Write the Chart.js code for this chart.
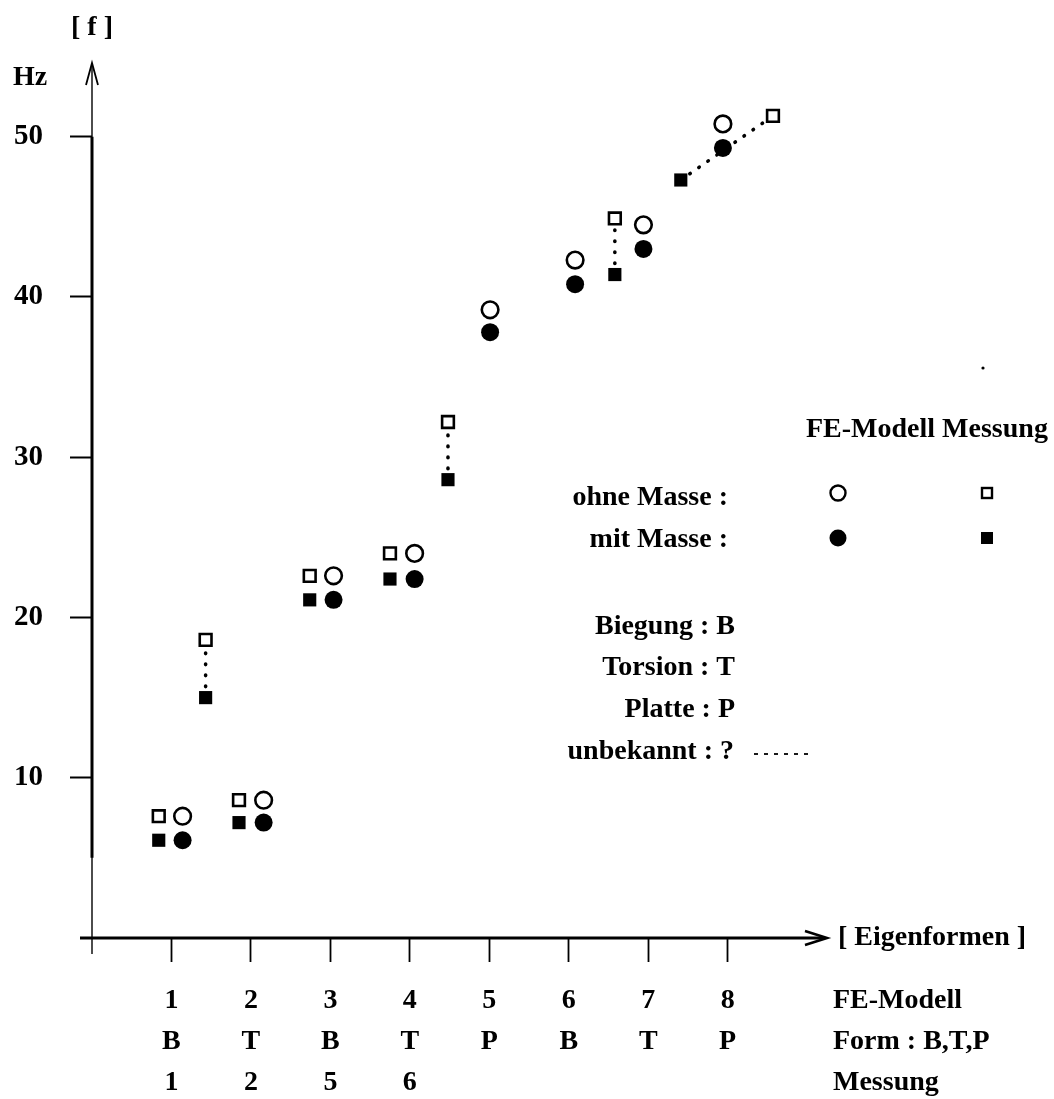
<!DOCTYPE html>
<html>
<head>
<meta charset="utf-8">
<script src="https://cdn.jsdelivr.net/npm/chart.js@4.4.1/dist/chart.umd.min.js"></script>
<style>
  html, body { margin: 0; padding: 0; background: #fff; }
  #wrap { position: relative; width: 1054px; height: 1099px; }
</style>
</head>
<body>
<div id="wrap"><canvas id="chart"></canvas></div>
<script>
/* Eigenfrequenzen: FE-Modell vs. Messung, ohne / mit Masse */

// FE-Modell (circles)
const feX     = [1.14, 2.16, 3.04, 4.06, 5.01, 6.08, 6.94, 7.94];
const feOhne  = [7.6, 8.6, 22.6, 24.0, 39.2, 42.3, 44.5, 50.8];
const feMit   = [6.1, 7.2, 21.1, 22.4, 37.8, 40.8, 43.0, 49.3];

// Messung (squares), assigned to a form
const messX    = [0.84, 1.85, 2.74, 3.75];
const messOhne = [7.6, 8.6, 22.6, 24.0];
const messMit  = [6.1, 7.2, 21.1, 22.4];

// Messung, form unbekannt (pairs joined by a dotted line)
const unbOhneX = [1.43, 4.48, 6.58, 8.57];
const unbOhne  = [18.6, 32.2, 44.9, 51.3];
const unbMitX  = [1.43, 4.48, 6.58, 7.41];
const unbMit   = [15.0, 28.6, 41.4, 47.3];

// axis labels
const formNr  = ['1', '2', '3', '4', '5', '6', '7', '8'];
const formTyp = ['B', 'T', 'B', 'T', 'P', 'B', 'T', 'P'];
const messNr  = ['1', '2', '5', '6', '', '', '', ''];
const yTicks  = [10, 20, 30, 40, 50];

const FONT = '"Liberation Serif", "Times New Roman", serif';

const pts = (xs, ys) => xs.map((x, i) => ({ x: x, y: ys[i] }));

const datasets = [
  { label: 'FE ohne Masse', data: pts(feX, feOhne), pointStyle: 'circle', pointRadius: 8.3,
    borderWidth: 2.6, borderColor: '#000', backgroundColor: '#fff' },
  { label: 'FE mit Masse', data: pts(feX, feMit), pointStyle: 'circle', pointRadius: 9,
    borderWidth: 0, borderColor: '#000', backgroundColor: '#000' },
  { label: 'Messung ohne Masse', data: pts(messX.concat(unbOhneX), messOhne.concat(unbOhne)),
    pointStyle: 'rect', pointRadius: 8.3, borderWidth: 2.6, borderColor: '#000', backgroundColor: '#fff' },
  { label: 'Messung mit Masse', data: pts(messX.concat(unbMitX), messMit.concat(unbMit)),
    pointStyle: 'rect', pointRadius: 9.3, borderWidth: 0, borderColor: '#000', backgroundColor: '#000' }
];

// dotted connectors for unknown forms
unbOhneX.forEach((x, i) => {
  datasets.push({
    label: 'unbekannt ' + (i + 1),
    data: [{ x: unbMitX[i], y: unbMit[i] }, { x: x, y: unbOhne[i] }],
    showLine: true, pointRadius: 0, borderColor: '#000', borderWidth: 3.6,
    borderDash: [0.5, 10.5], borderCapStyle: 'round', order: 10
  });
});

function txt(ctx, s, x, y, align) {
  ctx.textAlign = align || 'left';
  ctx.textBaseline = 'middle';
  ctx.fillText(s, x, y);
}

const decor = {
  id: 'decor',
  afterDraw(chart) {
    const ctx = chart.ctx;
    const xs = chart.scales.x, ys = chart.scales.y;
    const x0 = xs.getPixelForValue(0), y0 = ys.getPixelForValue(0);
    const top = chart.chartArea.top, right = chart.chartArea.right;
    ctx.save();
    ctx.strokeStyle = '#000';
    ctx.fillStyle = '#000';
    ctx.lineCap = 'butt';

    // y axis (thin) + thicker middle part like the original
    ctx.lineWidth = 1.4;
    ctx.beginPath(); ctx.moveTo(x0, top); ctx.lineTo(x0, y0 + 16); ctx.stroke();
    ctx.lineWidth = 3;
    ctx.beginPath(); ctx.moveTo(x0, ys.getPixelForValue(50)); ctx.lineTo(x0, ys.getPixelForValue(5)); ctx.stroke();
    ctx.lineWidth = 1.8;
    ctx.beginPath(); ctx.moveTo(x0 - 6, top + 22); ctx.lineTo(x0, top); ctx.lineTo(x0 + 6, top + 22); ctx.stroke();

    // x axis with arrow
    ctx.lineWidth = 3;
    ctx.beginPath(); ctx.moveTo(x0 - 12, y0); ctx.lineTo(right - 2, y0); ctx.stroke();
    ctx.lineWidth = 2.6;
    ctx.beginPath(); ctx.moveTo(right - 22, y0 - 7); ctx.lineTo(right, y0); ctx.lineTo(right - 22, y0 + 7); ctx.stroke();

    ctx.font = 'bold 28px ' + FONT;
    txt(ctx, '[ f ]', 92, 28, 'center');
    txt(ctx, 'Hz', 13, 78);
    txt(ctx, '[ Eigenformen ]', 838, y0);
    txt(ctx, 'FE-Modell', 833, 1001);
    txt(ctx, 'Form : B,T,P', 833, 1042);
    txt(ctx, 'Messung', 833, 1083);

    // legend
    txt(ctx, 'FE-Modell Messung', 806, 430);
    txt(ctx, 'ohne Masse :', 728, 498, 'right');
    txt(ctx, 'mit Masse :', 728, 540, 'right');
    txt(ctx, 'Biegung : B', 735, 627, 'right');
    txt(ctx, 'Torsion : T', 735, 668, 'right');
    txt(ctx, 'Platte : P', 735, 710, 'right');
    txt(ctx, 'unbekannt : ?', 734, 752, 'right');

    ctx.lineWidth = 1.8;
    for (let i = 0; i < 6; i++) {
      ctx.beginPath(); ctx.moveTo(754 + i * 10, 754); ctx.lineTo(758 + i * 10, 754); ctx.stroke();
    }

    ctx.lineWidth = 2.4;
    ctx.beginPath(); ctx.arc(838, 493, 7.5, 0, Math.PI * 2); ctx.stroke();
    ctx.beginPath(); ctx.arc(838, 538, 8.5, 0, Math.PI * 2); ctx.fill();
    ctx.strokeRect(982, 488, 10, 10);
    ctx.fillRect(981, 532, 12, 12);
    ctx.beginPath(); ctx.arc(983, 368, 1.6, 0, Math.PI * 2); ctx.fill();
    ctx.restore();
  }
};

new Chart(document.getElementById('chart'), {
  type: 'scatter',
  data: { datasets: datasets },
  options: {
    responsive: true,
    maintainAspectRatio: false,
    animation: false,
    layout: { padding: { top: 63, right: 227, bottom: 0, left: 0 } },
    plugins: { legend: { display: false }, tooltip: { enabled: false } },
    clip: false,
    scales: {
      x: {
        type: 'linear', min: 0, max: 9.25,
        border: { display: false },
        grid: { drawOnChartArea: false, drawTicks: true, tickLength: 24, tickWidth: 1.8, tickColor: '#000' },
        afterBuildTicks: (s) => { s.ticks = formNr.map((_, i) => ({ value: i + 1 })); },
        afterFit: (s) => { s.height = 161; },
        ticks: {
          autoSkip: false, maxRotation: 0, padding: 18, color: '#000',
          font: { family: FONT, size: 28, weight: 'bold', lineHeight: 41 / 28 },
          callback: (v) => [formNr[v - 1], formTyp[v - 1], messNr[v - 1]]
        }
      },
      y: {
        type: 'linear', min: 0, max: 54.6,
        border: { display: false },
        grid: { drawOnChartArea: false, drawTicks: true, tickLength: 22, tickWidth: 2, tickColor: '#000' },
        afterBuildTicks: (s) => { s.ticks = yTicks.map(v => ({ value: v })); },
        afterFit: (s) => { s.width = 92; },
        ticks: {
          padding: 27, color: '#000',
          font: { family: FONT, size: 29, weight: 'bold' },
          callback: (v) => String(v)
        }
      }
    }
  },
  plugins: [decor]
});
</script>
</body>
</html>
